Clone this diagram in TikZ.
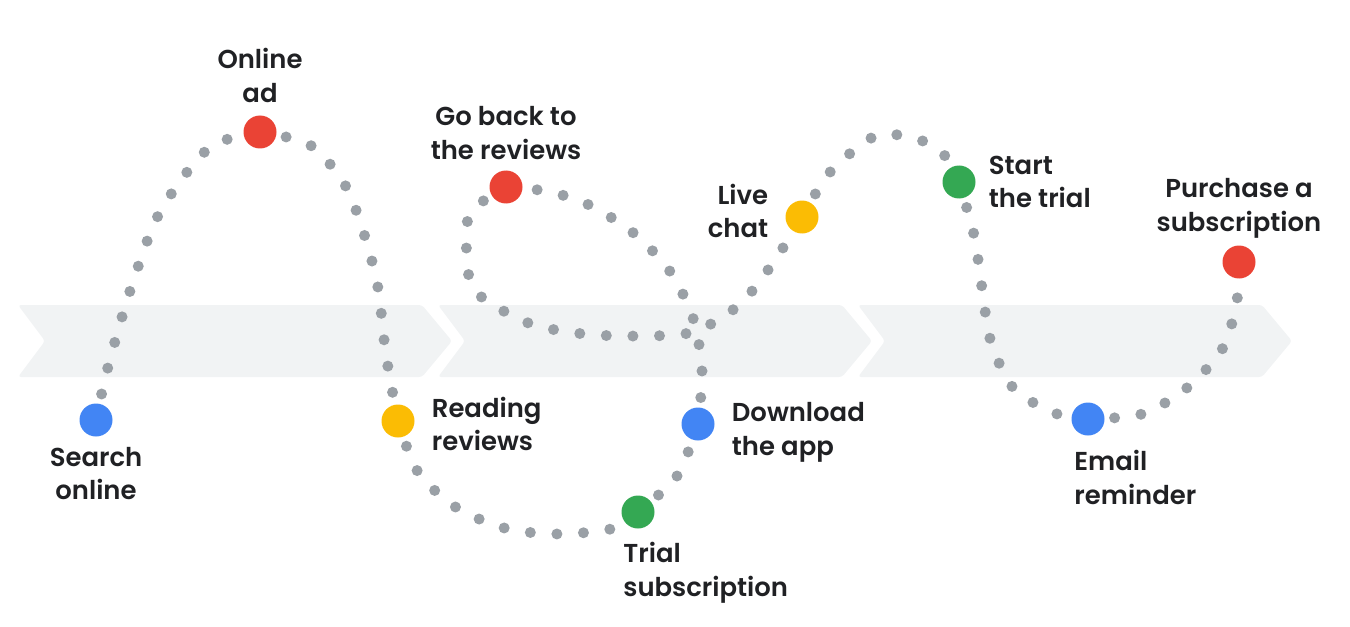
\documentclass[tikz,border=0pt]{standalone}
\usepackage{fontspec}
\setmainfont{Poppins SemiBold}
\usetikzlibrary{positioning, backgrounds}
\definecolor{gblue}{HTML}{4285F4}
\definecolor{gred}{HTML}{EA4335}
\definecolor{gyellow}{HTML}{FBBC04}
\definecolor{ggreen}{HTML}{34A853}
\definecolor{ggray}{HTML}{9AA0A6}
\definecolor{gband}{HTML}{F1F3F4}
\definecolor{gtext}{HTML}{202124}

\begin{document}
\begin{tikzpicture}[x=1bp, y=-1bp,
    stop/.style={circle, inner sep=0pt, minimum size=33bp},
    trail/.style={ggray, line width=11bp, line cap=round, dash pattern=on 0bp off 26.6bp},
    caption/.style={text=gtext, inner sep=0pt, font=\fontsize{26}{34}\selectfont}]
    \useasboundingbox (0,0) rectangle (1350,627);

    % Touchpoints
    \node[stop, fill=gblue]   (search)   at (96,420)   {};
    \node[stop, fill=gred]    (ad)       at (260,132)  {};
    \node[stop, fill=gyellow] (reading)  at (398,421)  {};
    \node[stop, fill=ggreen]  (trial)    at (638,512)  {};
    \node[stop, fill=gblue]   (download) at (698,424)  {};
    \node[stop, fill=gred]    (goback)   at (506,187)  {};
    \node[stop, fill=gyellow] (chat)     at (802,217)  {};
    \node[stop, fill=ggreen]  (start)    at (959,182)  {};
    \node[stop, fill=gblue]   (email)    at (1088,419) {};
    \node[stop, fill=gred]    (purchase) at (1239,262) {};

    % Labels
    \node[caption, align=center, below=10bp of search] (searchlabel) {Search\\online};
    \node[caption, align=center, above=12bp of ad] (adlabel) {Online\\ad};
    \node[caption, align=left, right=17bp of reading, yshift=-3bp] (readinglabel) {Reading\\reviews};
    \node[caption, align=left, below=18bp of trial.south west, anchor=north west, xshift=-3bp] (triallabel) {Trial\\subscription};
    \node[caption, align=left, right=17bp of download, yshift=-8bp] (downloadlabel) {Download\\the app};
    \node[caption, align=center, above=10bp of goback] (gobacklabel) {Go back to\\the reviews};
    \node[caption, align=right, left=17bp of chat, yshift=6bp] (chatlabel) {Live\\chat};
    \node[caption, align=left, right=13bp of start] (startlabel) {Start\\the trial};
    \node[caption, align=left, below=19bp of email.south west, anchor=north west, xshift=-2bp] (emaillabel) {Email\\reminder};
    \node[caption, align=center, above=7bp of purchase] (purchaselabel) {Purchase a\\subscription};

    \begin{scope}[on background layer]
        % Stages
        \foreach \x in {18,438,858}
            \fill[gband, rounded corners=3bp] (\x,305) -- ++(404,0) -- ++(30,36) -- ++(-30,36) -- ++(-404,0) -- ++(27,-36) -- cycle;

        % Journey
        \draw[trail] plot[smooth] coordinates {(search.center) (108,367) (131,288) (160,212) (209,148) (ad.center)};
        \draw[trail] plot[smooth] coordinates {(ad.center) (310,145) (345,185) (365,237) (378,288) (386,355) (reading.center)};
        \draw[trail] plot[smooth] coordinates {(reading.center) (418,472) (457,508) (508,529) (562,534) (615,528) (trial.center)};
        \draw[trail] plot[smooth] coordinates {(trial.center) (677,476) (download.center)};
        \draw[trail] plot[smooth] coordinates {(download.center) (702,371) (693,318) (669,270) (631,231) (585,203) (545,191) (goback.center)};
        \draw[trail] plot[smooth] coordinates {(goback.center) (482,202) (467,223) (469,277) (484,299) (531,324) (584,334) (639,336) (693,332) (739,305) (773,263) (chat.center)};
        \draw[trail] plot[smooth] coordinates {(chat.center) (831,171) (873,137) (899,135) (925,142) (947,158) (start.center)};
        \draw[trail] plot[smooth] coordinates {(start.center) (974,235) (982,288) (991,342) (1015,390) (1062,416) (email.center)};
        \draw[trail] plot[smooth] coordinates {(email.center) (1142,414) (1188,387) (1224,346) (1238,294) (purchase.center)};
    \end{scope}
\end{tikzpicture}
\end{document}
